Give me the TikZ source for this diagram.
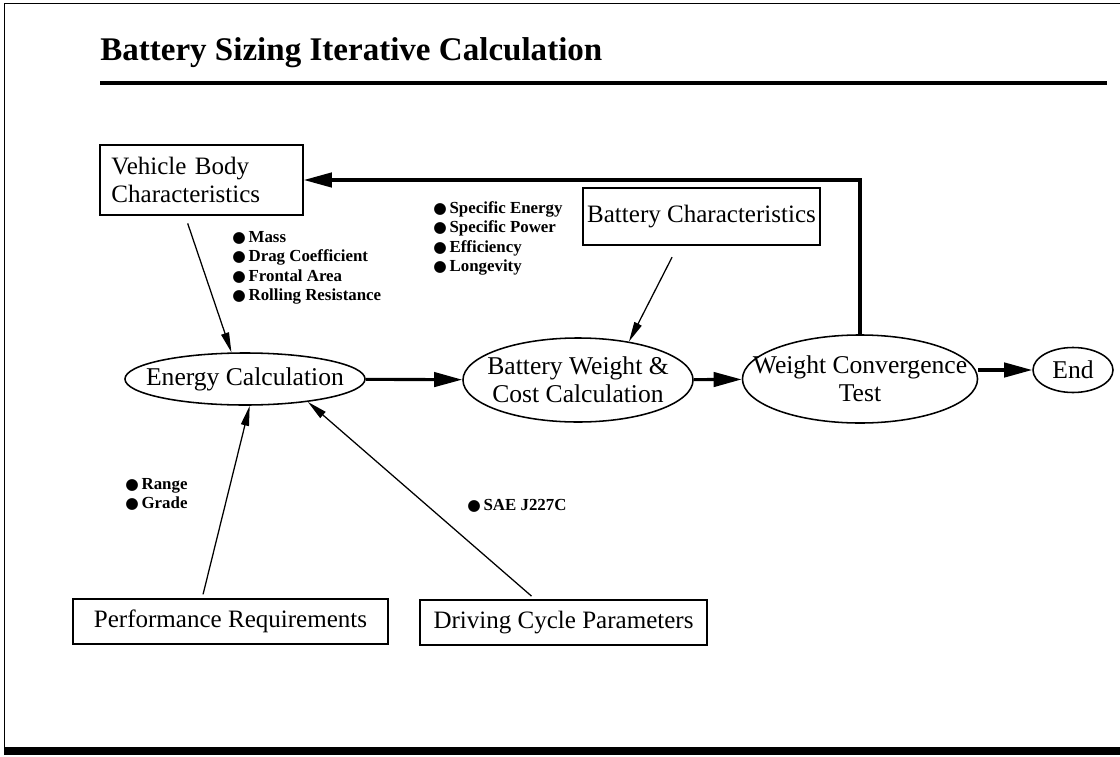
\documentclass[tikz,border=0pt]{standalone}
\usepackage{fontspec}
\setmainfont{Liberation Serif}
\newfontfamily\symfont{DejaVu Sans}
\usetikzlibrary{arrows.meta, shapes.geometric}

\newcommand{\bul}{{\symfont\fontsize{11}{11}\selectfont ●}\,}

\begin{document}
\begin{tikzpicture}[
    x=0.025cm, y=-0.025cm,
    box/.style={draw, rectangle, line width=1.1pt, inner sep=0pt, font=\fontsize{17.8}{19.5}\selectfont},
    oval/.style={draw, ellipse, line width=1.1pt, inner sep=0pt},
    ovaltext/.style={align=center, inner sep=0pt, font=\fontsize{18.2}{20}\selectfont},
    items/.style={align=left, anchor=north west, inner sep=0pt, font=\bfseries\fontsize{12}{13.9}\selectfont},
    flow/.style={-{Triangle[length=0.7cm, width=0.36cm]}, line width=2.2pt},
    feed/.style={-{Triangle[length=0.5cm, width=0.2cm]}, line width=0.9pt}
]
\useasboundingbox (0,0) rectangle (1120,757);

% frame and title
\draw[line width=0.7pt] (4,750) -- (4,3) -- (1120,3);
\draw[line width=6pt] (4,751) -- (1120,751);
\node[anchor=base west, inner sep=0pt, font=\bfseries\fontsize{23.5}{26}\selectfont] (title) at (100,60) {Battery Sizing Iterative Calculation};
\draw[line width=2.8pt] (100,83) -- (1107,83);

% input boxes
\node[box, minimum width=5.075cm, minimum height=1.75cm, text width=4.5cm, align=left] (vehicle) at (201.5,180) {Vehicle Body\\Characteristics};
\node[box, minimum width=5.925cm, minimum height=1.425cm] (batt) at (701.5,216.5) {Battery Characteristics};
\node[box, minimum width=7.875cm, minimum height=1.125cm] (perf) at (230.5,621.5) {Performance Requirements};
\node[box, minimum width=7.175cm, minimum height=1.125cm] (drive) at (563.5,622.5) {Driving Cycle Parameters};

% calculation steps
\node[oval, minimum width=6cm, minimum height=1.3cm] (energy) at (245,379) {};
\node[ovaltext] (energytxt) at (energy) {Energy Calculation};
\node[oval, minimum width=5.75cm, minimum height=2.1cm] (battw) at (578,380) {};
\node[ovaltext] (battwtxt) at (battw) {Battery Weight \&\\Cost Calculation};
\node[oval, minimum width=5.875cm, minimum height=2.2cm] (conv) at (860,379) {};
\node[ovaltext] (convtxt) at (conv) {Weight Convergence\\Test};
\node[oval, minimum width=2cm, minimum height=1.125cm] (done) at (1073,370) {};
\node[ovaltext] (donetxt) at (done) {End};

% parameter lists
\node[items] (vehitems) at (232,231) {\bul Mass\\\bul Drag Coefficient\\\bul Frontal Area\\\bul Rolling Resistance};
\node[items] (battitems) at (433,201) {\bul Specific Energy\\\bul Specific Power\\\bul Efficiency\\\bul Longevity};
\node[items] (perfitems) at (125,478) {\bul Range\\\bul Grade};
\node[items] (driveitems) at (467,499) {\bul SAE J227C};

% connections
\draw[flow] (energy) -- (battw);
\draw[flow] (battw) -- (conv);
\draw[flow] (done.west -| conv.east) -- (done.west);
\draw[flow] (conv.north) |- (vehicle.east);
\draw[feed, shorten <=0.2cm] ([xshift=-0.41cm]vehicle.south) -- (energy.117);
\draw[feed, shorten <=0.32cm] ([xshift=-0.59cm]batt.south) -- (battw.37);
\draw[feed, shorten <=0.1cm] ([xshift=-0.71cm]perf.north) -- (energy.-80);
\draw[feed, shorten <=0.12cm] ([xshift=-0.71cm]drive.north) -- (energy.-20);

\end{tikzpicture}
\end{document}
